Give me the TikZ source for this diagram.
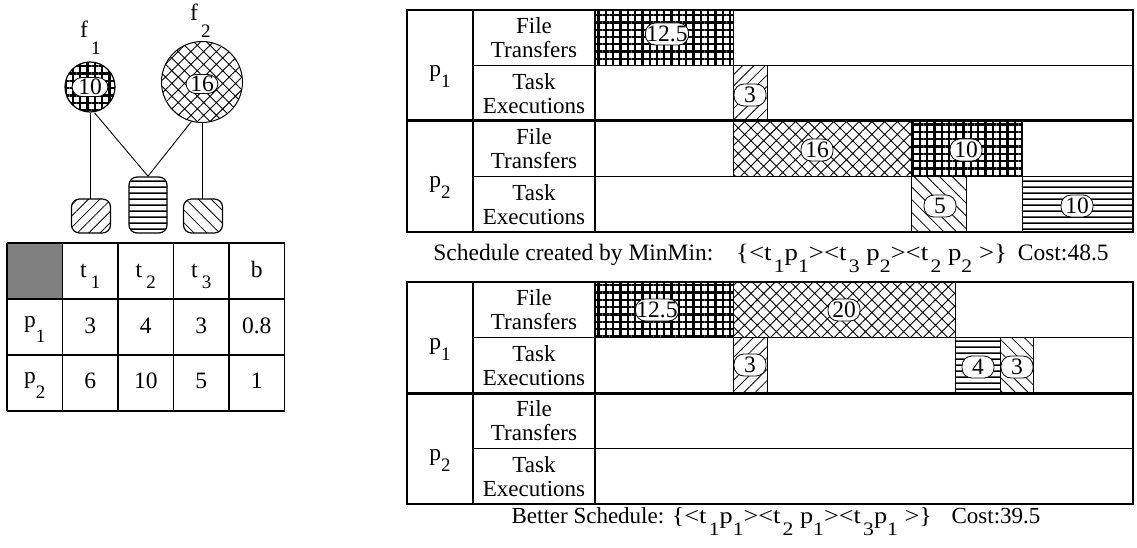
\documentclass[tikz,border=0pt]{standalone}
\usepackage{graphicx}
\usepackage{fontspec}
\setmainfont{Liberation Serif}
\usetikzlibrary{patterns.meta}
\definecolor{cellgray}{HTML}{808080}
\newcommand\mysub[2][12pt]{\raisebox{-#1}{\fontsize{19}{19}\selectfont #2}}
\newcommand\tx[1]{595+#1*11.0928}
\newcommand\ganttframe[2]{%
  \draw[hline] (407,#1) rectangle (1133,#1+222);
  \draw[hline] (473,#1) -- (473,#1+222);
  \draw[hline] (595,#1) -- (595,#1+222);
  \draw[hline] (473,#1+55.5) -- (1133,#1+55.5);
  \draw[hline] (473,#1+166.5) -- (1133,#1+166.5);
  \draw[heavy] (407,#1+111) -- (1133,#1+111);
  \node[celltxt] (ftA#2) at (534,#1+27.5) {File\\Transfers};
  \node[celltxt] (teA#2) at (534,#1+83.5) {Task\\Executions};
  \node[celltxt] (ftB#2) at (534,#1+138.5) {File\\Transfers};
  \node[celltxt] (teB#2) at (534,#1+194.5) {Task\\Executions};
  \node[txtf, anchor=base] (pa#2) at (440,#1+67) {p\mysub[11pt]{1}};
  \node[txtf, anchor=base] (pb#2) at (440,#1+178) {p\mysub[11pt]{2}};
}
\begin{document}
\begin{tikzpicture}[x=1pt,y=-1pt,
  every node/.style={inner sep=0pt},
  txtf/.style={font=\fontsize{23.5}{24.5}\selectfont},
  celltxt/.style={font=\fontsize{23}{24.5}\selectfont, align=center},
  captxt/.style={font=\fontsize{23.5}{24}\selectfont},
  cap2txt/.style={font=\fontsize{23}{24}\selectfont},
  val/.style={txtf, draw, fill=white, rounded corners=10pt, minimum width=32pt, minimum height=22pt, inner xsep=1pt, line width=0.8pt},
  gridpat/.style={pattern={Hatch[angle=0,distance=7.3pt,line width=2.3pt]}},
  crosspat/.style={pattern={Hatch[angle=45,distance=9pt,line width=0.9pt]}},
  nepat/.style={pattern={Lines[angle=45,distance=8pt,line width=0.8pt]}},
  nwpat/.style={pattern={Lines[angle=-45,distance=9pt,line width=0.8pt]}},
  hpat/.style={pattern={Lines[angle=0,distance=6.4pt,line width=1.6pt]}},
  hline/.style={line width=1.4pt},
  heavy/.style={line width=3pt},
  tline/.style={line width=1.8pt},
  barb/.style={draw, line width=0.7pt},
  taskbox/.style={draw, rounded corners=8pt, line width=1.2pt},
  link/.style={line width=0.9pt},
]
\useasboundingbox (0,0) rectangle (1137,548);

% ---------- file / task graph ----------
\node[circle, draw, line width=1.2pt, gridpat, minimum size=50pt] (f1) at (90,87) {};
\node[circle, draw, line width=1pt, crosspat, minimum size=81pt] (f2) at (202,82) {};
\node[val, minimum width=36pt, minimum height=19pt] (f1v) at (90,87) {10};
\node[val, minimum width=32pt, minimum height=19pt] (f2v) at (202,84) {16};
\node[txtf, anchor=base west] (f1n) at (80,38) {f\hspace{3pt}\mysub[17pt]{1}};
\node[txtf, anchor=base west] (f2n) at (190,21) {f\hspace{3pt}\mysub[17pt]{2}};

\node[taskbox, nepat, minimum width=39pt, minimum height=34pt] (t1) at (91,216) {};
\node[taskbox, hpat, minimum width=38pt, minimum height=56pt] (t2) at (148,205) {};
\node[taskbox, nwpat, minimum width=39pt, minimum height=34pt] (t3) at (203,216) {};

\draw[link] (f1.south) -- (f1.south |- t1.north);
\draw[link] (f1.-80) -- (t2.north);
\draw[link] (f2.-105) -- (t2.north);
\draw[link] (f2.south) -- (f2.south |- t3.north);

% ---------- table ----------
\fill[cellgray] (7,243) rectangle (62.5,299);
\foreach \x in {7,62.5,118,173.5,229,284.5} \draw[tline] (\x,243) -- (\x,411);
\foreach \y in {243,299,355,411} \draw[tline] (7,\y) -- (284.5,\y);
\node[txtf, anchor=base] (h1) at (90.25,277) {t\hspace{4pt}\mysub[11pt]{1}};
\node[txtf, anchor=base] (h2) at (145.75,277) {t\hspace{4pt}\mysub[11pt]{2}};
\node[txtf, anchor=base] (h3) at (201.25,277) {t\hspace{4pt}\mysub[11pt]{3}};
\node[txtf, anchor=base] (hb) at (256.75,277) {b};
\node[txtf, anchor=base] (r1) at (34.75,327) {p\mysub[15pt]{1}};
\node[txtf, anchor=base] (r2) at (34.75,383) {p\mysub[15pt]{2}};
\node[txtf] (c11) at (90.25,326) {3};
\node[txtf] (c12) at (145.75,326) {4};
\node[txtf] (c13) at (201.25,326) {3};
\node[txtf] (c14) at (256.75,326) {0.8};
\node[txtf] (c21) at (90.25,381) {6};
\node[txtf] (c22) at (145.75,381) {10};
\node[txtf] (c23) at (201.25,381) {5};
\node[txtf] (c24) at (256.75,381) {1};

% ---------- MinMin schedule ----------
\draw[barb, gridpat] ({\tx{0}},10) rectangle ({\tx{12.5}},65.5);
\draw[barb, nepat] ({\tx{12.5}},65.5) rectangle ({\tx{15.5}},121);
\draw[barb, crosspat] ({\tx{12.5}},121) rectangle ({\tx{28.5}},176.5);
\draw[barb, gridpat] ({\tx{28.5}},121) rectangle ({\tx{38.5}},176.5);
\draw[barb, nwpat] ({\tx{28.5}},176.5) rectangle ({\tx{33.5}},232);
\draw[barb, hpat] ({\tx{38.5}},176.5) rectangle ({\tx{48.5}},232);
\ganttframe{10}{top}
\node[val] (va1) at (667,34) {12.5};
\node[val] (va2) at (750,95) {3};
\node[val] (va3) at (817,150) {16};
\node[val] (va4) at (966,150) {10};
\node[val] (va5) at (940,206) {5};
\node[val] (va6) at (1077,206) {10};
\node[captxt, anchor=base] (cap1) at (771,260) {Schedule created by MinMin:\hspace{15pt} \scalebox{1.14}[1]{\{<t\hspace{2pt}\mysub{1}p\mysub{1}><t\hspace{2pt}\mysub{3} p\mysub{2}><t\hspace{2pt}\mysub{2} p\mysub{2} >\}}\hspace{5pt} Cost:48.5};

% ---------- better schedule ----------
\draw[barb, gridpat] ({\tx{0}},282) rectangle ({\tx{12.5}},337.5);
\draw[barb, crosspat] ({\tx{12.5}},282) rectangle ({\tx{32.5}},337.5);
\draw[barb, nepat] ({\tx{12.5}},337.5) rectangle ({\tx{15.5}},393);
\draw[barb, hpat] ({\tx{32.5}},337.5) rectangle ({\tx{36.5}},393);
\draw[barb, nwpat] ({\tx{36.5}},337.5) rectangle ({\tx{39.5}},393);
\ganttframe{282}{bot}
\node[val] (vb1) at (657,310) {12.5};
\node[val] (vb2) at (844,310) {20};
\node[val] (vb3) at (750,365) {3};
\node[val] (vb4) at (978,367) {4};
\node[val] (vb5) at (1017,367) {3};
\node[cap2txt, anchor=base] (cap2) at (776,523) {Better Schedule: \scalebox{1.14}[1]{\{<t\hspace{2pt}\mysub{1}p\mysub{1}><t\hspace{2pt}\mysub{2} p\mysub{1}><t\hspace{2pt}\mysub{3}p\mysub{1} >\}}\hspace{14pt} Cost:39.5};
\end{tikzpicture}
\end{document}
